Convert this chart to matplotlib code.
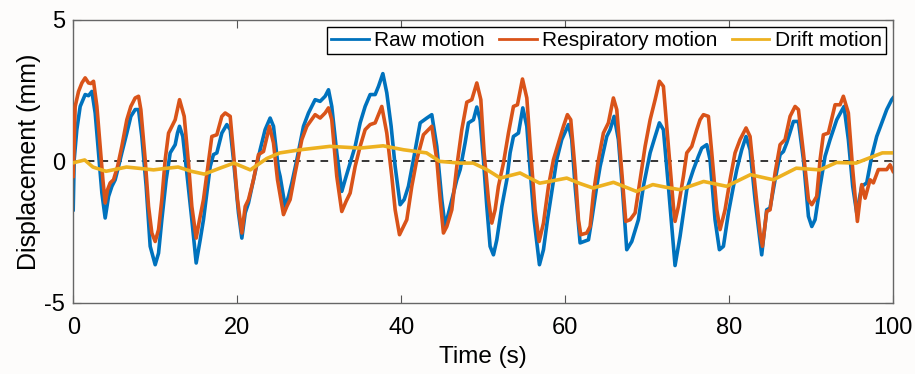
import matplotlib
matplotlib.use('Agg')
import matplotlib.pyplot as plt

plt.rcParams['font.family'] = ['Liberation Sans', 'DejaVu Sans']
plt.rcParams['axes.unicode_minus'] = False

# values (time in s, displacement in mm)
raw_t = [0.0, 0.12, 0.44, 0.85, 1.46, 1.87, 2.28, 2.68, 3.09, 3.5, 3.9, 4.31, 4.72, 5.12, 5.53, 5.93,
         6.54, 7.03, 7.56, 7.97, 8.37, 8.9, 9.39, 10.0, 10.41, 10.81, 11.34, 11.83, 12.44, 12.72, 12.97,
         13.37, 13.86, 14.47, 15.0, 15.49, 15.89, 16.3, 16.71, 17.11, 17.52, 18.13, 18.74, 19.15, 19.55,
         20.16, 20.57, 20.98, 21.38, 21.99, 22.8, 23.41, 24.02, 24.43, 25.04, 25.24, 25.85, 26.26, 26.67,
         27.28, 28.09, 28.7, 29.51, 30.12, 30.73, 31.14, 31.54, 32.15, 32.76, 33.29, 33.78, 34.39, 35.0,
         35.61, 36.22, 36.83, 37.24, 37.77, 38.25, 38.78, 39.27, 39.88, 40.37, 40.89, 41.5, 42.32, 43.13,
         43.74, 44.35, 44.96, 45.37, 45.98, 46.79, 47.2, 47.8, 48.21, 48.82, 49.23, 49.63, 50.04, 50.45,
         50.85, 51.26, 51.67, 52.28, 52.89, 53.29, 53.7, 54.31, 54.84, 55.33, 55.73, 56.22, 56.87, 57.36,
         57.85, 58.41, 58.98, 59.59, 60.41, 60.81, 61.22, 61.83, 62.85, 63.25, 63.86, 64.27, 65.08, 65.49,
         65.98, 66.5, 67.03, 67.52, 68.13, 68.94, 69.55, 70.37, 70.98, 71.5, 71.99, 72.6, 73.41, 74.02,
         74.84, 75.65, 76.26, 76.67, 77.28, 77.68, 78.29, 78.82, 79.31, 79.92, 80.53, 80.94, 81.54, 82.07,
         82.56, 83.17, 83.98, 84.59, 85.0, 85.61, 86.22, 86.63, 87.03, 87.85, 88.46, 89.07, 89.68, 90.09,
         90.49, 91.1, 91.71, 92.32, 93.13, 94.02, 94.55, 95.08, 95.57, 96.18, 96.79, 97.4, 98.01, 98.62,
         99.23, 99.84, 100.0]
raw_v = [-1.71, 0.06, 1.12, 1.94, 2.36, 2.32, 2.47, 1.71, 0.3, -1.12, -2.0, -1.24, -0.88, -0.65, -0.18, 0.3,
         1.0, 1.59, 1.83, 1.83, 0.88, -0.88, -3.0, -3.65, -3.24, -2.06, -0.65, 0.3, 0.59, 1.0, 1.24,
         0.88, -0.41, -2.06, -3.59, -2.77, -2.06, -1.12, -0.18, 0.24, 0.3, 1.0, 1.3, 1.12, 0.06,
         -1.82, -2.71, -1.82, -1.47, -0.65, 0.41, 1.12, 1.53, 1.24, -0.29, -0.53, -1.59, -1.24, -0.76,
         0.06, 1.24, 1.71, 2.18, 2.12, 2.3, 2.53, 1.94, 0.3, -1.06, -0.53, -0.06, 0.53, 1.36,
         1.94, 2.36, 2.36, 2.65, 3.1, 2.42, 1.24, -0.18, -1.53, -1.35, -0.88, 0.06, 1.36, 1.53,
         1.65, 0.53, -1.35, -2.3, -1.59, -0.65, -0.29, 0.65, 1.36, 1.47, 1.92, 1.47, 0.06, -1.59,
         -3.0, -3.3, -2.77, -1.59, -0.65, 0.3, 0.88, 1.0, 1.89, 1.24, -0.29, -2.06, -3.65, -3.12,
         -2.06, -1.0, 0.06, 0.77, 1.3, 0.77, -0.88, -2.88, -2.77, -2.06, -0.88, -0.18, 0.88, 1.12,
         1.59, 0.77, -1.12, -3.12, -2.83, -2.06, -0.88, 0.3, 0.88, 1.36, 1.12, -0.88, -3.68, -2.65,
         -1.0, -0.29, 0.18, 0.47, 0.59, 0.06, -2.06, -3.12, -3.0, -1.82, -0.88, -0.29, 0.41, 0.88,
         0.41, -1.35, -3.3, -1.71, -1.65, -0.65, 0.24, 0.35, 0.65, 1.41, 1.41, 0.06, -1.94, -2.3,
         -2.06, -0.88, 0.18, 0.77, 1.47, 1.94, 0.77, -0.88, -1.82, -0.88, -0.76, 0.18, 0.88, 1.36,
         1.83, 2.18, 2.24]

resp_t = [0.0, 0.24, 0.65, 1.06, 1.46, 1.87, 2.15, 2.48, 2.89, 3.29, 3.62, 3.9, 4.19, 4.51, 4.92, 5.41,
          5.93, 6.54, 7.03, 7.56, 7.97, 8.25, 8.78, 9.19, 9.59, 10.0, 10.41, 10.81, 11.22, 11.63, 12.44,
          12.97, 13.54, 14.06, 14.47, 15.0, 15.41, 15.89, 16.42, 16.91, 17.52, 18.13, 18.54, 19.15, 19.55,
          20.04, 20.57, 20.98, 21.38, 21.99, 22.6, 23.21, 23.94, 24.43, 24.92, 25.65, 26.06, 26.46, 27.07,
          27.89, 28.5, 29.51, 30.12, 30.73, 31.14, 31.54, 32.15, 32.76, 33.29, 33.78, 34.39, 35.0, 35.61,
          36.22, 36.83, 37.64, 38.25, 38.86, 39.27, 39.8, 40.29, 40.69, 41.3, 41.91, 42.72, 43.33, 43.74,
          44.35, 44.76, 45.16, 45.57, 46.18, 46.79, 47.4, 48.01, 48.62, 49.23, 49.72, 50.12, 50.65, 51.06,
          51.46, 51.87, 52.48, 53.09, 53.7, 54.19, 54.8, 55.33, 55.81, 56.34, 56.83, 57.36, 57.97, 58.58,
          59.19, 59.8, 60.28, 60.69, 61.22, 61.63, 61.91, 62.64, 63.05, 63.46, 64.07, 64.67, 65.28, 65.89,
          66.3, 66.79, 67.4, 67.93, 68.54, 69.15, 69.76, 70.37, 70.98, 71.5, 71.99, 72.6, 73.21, 73.41,
          73.82, 74.43, 74.84, 75.45, 76.06, 76.46, 76.87, 77.48, 77.89, 78.5, 78.9, 79.51, 80.12, 80.73,
          81.34, 82.07, 82.56, 83.17, 83.78, 84.07, 84.59, 85.0, 85.61, 86.22, 86.83, 87.44, 88.05, 88.46,
          89.07, 89.68, 90.09, 90.69, 91.1, 91.5, 92.11, 92.93, 93.54, 93.94, 94.55, 95.08, 95.65, 96.18,
          96.59, 97.2, 97.6, 98.21, 99.23, 99.63, 100.0]
resp_v = [-0.53, 1.94, 2.47, 2.77, 2.95, 2.77, 2.75, 2.83, 1.94, 0.53, -0.65, -1.47, -1.0, -0.76, -0.65, -0.18,
          0.53, 1.47, 1.94, 2.24, 2.3, 1.83, 0.06, -1.59, -2.53, -2.83, -2.41, -1.35, 0.06, 1.0, 1.47,
          2.18, 1.59, -0.06, -1.59, -2.71, -2.06, -1.35, -0.18, 0.88, 0.94, 1.59, 1.71, 1.59, 0.3,
          -1.35, -2.53, -1.59, -1.35, -0.65, 0.24, 0.35, 1.24, 0.65, -0.65, -1.88, -1.59, -1.35, -0.41,
          0.77, 1.24, 1.65, 1.53, 1.71, 1.89, 1.47, -0.53, -1.77, -1.41, -1.12, -0.18, 0.53, 1.12,
          1.3, 1.36, 1.94, 1.0, -0.53, -1.71, -2.59, -2.3, -2.06, -0.88, 0.06, 0.94, 1.12, 1.24,
          0.06, -1.35, -2.53, -2.3, -1.71, -0.18, 1.12, 2.09, 2.18, 2.77, 2.18, 0.3, -1.35, -2.18,
          -1.71, -0.88, -0.06, 1.0, 1.94, 2.0, 2.91, 2.24, 0.3, -1.71, -2.83, -2.18, -0.88, 0.06,
          0.65, 1.24, 1.65, 1.47, -0.29, -2.06, -2.59, -2.53, -2.3, -1.12, 0.06, 1.0, 1.36, 2.24,
          1.83, 0.06, -2.12, -2.06, -1.82, -0.65, 0.53, 1.47, 2.18, 2.83, 2.65, 0.53, -1.59, -2.12,
          -1.59, -0.53, 0.3, 0.53, 1.12, 1.47, 1.65, 1.59, 0.3, -1.71, -2.41, -1.71, -0.65, 0.3,
          0.77, 1.18, 0.88, -0.88, -2.53, -3.0, -1.77, -1.71, -0.41, 0.59, 0.77, 1.59, 1.94, 1.83,
          0.3, -1.35, -1.53, -1.24, 0.06, 0.94, 1.0, 2.0, 2.0, 2.3, 1.71, -0.29, -2.12, -0.82,
          -1.3, -0.65, -0.76, -0.29, -0.29, -0.12, -0.35]

drift_t = [0.0, 1.4, 2.4, 4.0, 5.2, 6.5, 8.2, 9.8, 11.2, 12.8, 14.4, 16.0, 17.8, 19.6, 21.6, 23.6,
           25.2, 27.7, 31.3, 35.0, 37.8, 40.3, 43.1, 44.7, 47.2, 48.8, 50.5, 52.1, 54.5, 56.9, 58.6,
           60.2, 61.8, 63.4, 65.9, 68.7, 70.7, 72.4, 74.0, 76.9, 79.7, 82.6, 85.4, 88.2, 91.1, 93.1,
           95.5, 98.7, 100.0]
drift_v = [-0.05, 0.05, -0.2, -0.35, -0.28, -0.2, -0.25, -0.3, -0.25, -0.2, -0.35, -0.45, -0.25, -0.06, -0.3, 0.1,
           0.3, 0.41, 0.53, 0.47, 0.55, 0.41, 0.3, 0.0, -0.06, -0.06, -0.3, -0.59, -0.41, -0.77, -0.68,
           -0.59, -0.78, -0.94, -0.74, -1.06, -0.82, -0.92, -1.0, -0.71, -0.88, -0.47, -0.65, -0.24, -0.3, -0.04,
           -0.06, 0.3, 0.3]

fig = plt.figure(figsize=(9.15, 3.74), dpi=100, facecolor='#fdfcfb')
ax = fig.add_axes([0.080, 0.190, 0.896, 0.757])
ax.set_facecolor('#fdfcfb')

ax.axhline(0, color='black', linestyle=(0, (5, 4)), linewidth=1.1, zorder=1)
ax.plot(raw_t, raw_v, color='#0072BD', linewidth=2.6, label='Raw motion',
        solid_joinstyle='round', zorder=2)
ax.plot(resp_t, resp_v, color='#D95319', linewidth=2.6, label='Respiratory motion',
        solid_joinstyle='round', zorder=3)
ax.plot(drift_t, drift_v, color='#EDB120', linewidth=2.6, label='Drift motion',
        solid_joinstyle='round', zorder=4)

ax.set_xlim(0, 100)
ax.set_ylim(-5, 5)
ax.set_xticks([0, 20, 40, 60, 80, 100])
ax.set_yticks([-5, 0, 5])
ax.tick_params(direction='in', top=True, right=True, labelsize=17, length=6, color='#555555')
ax.tick_params(axis='x', pad=10)
ax.tick_params(axis='y', pad=6)
for s in ax.spines.values():
    s.set_color('#666666')
    s.set_linewidth(1.0)

ax.set_xlabel('Time (s)', fontsize=17.5, labelpad=5)
ax.set_ylabel('Displacement (mm)', fontsize=18, labelpad=2)

leg = ax.legend(loc='upper right', ncol=3, fontsize=15, frameon=True, fancybox=False,
                edgecolor='black', handlelength=1.8, handletextpad=0.25, columnspacing=0.7,
                borderpad=0.2, borderaxespad=0.35)
leg.get_frame().set_linewidth(1.0)
leg.get_frame().set_facecolor('white')
leg.get_frame().set_alpha(1)
for h in leg.get_lines():
    h.set_linewidth(2.0)

fig.savefig('out.png', dpi=100, facecolor=fig.get_facecolor())
